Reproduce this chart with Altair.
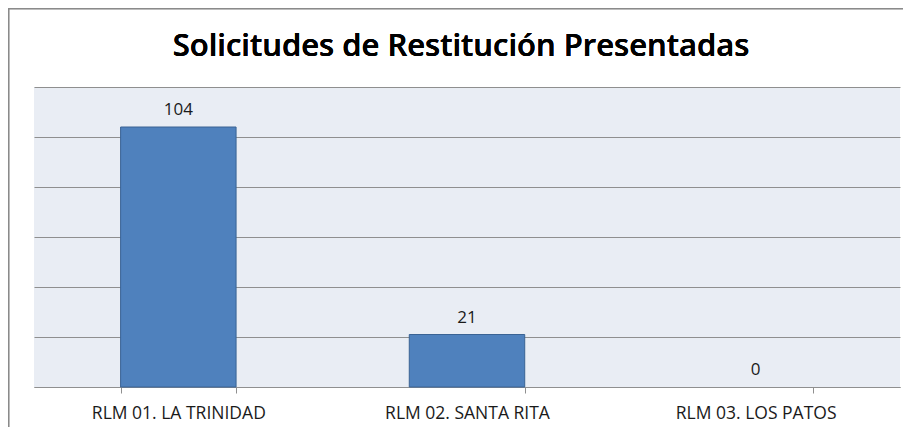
import altair as alt
import pandas as pd

categories = ["RLM 01. LA TRINIDAD", "RLM 02. SANTA RITA", "RLM 03. LOS PATOS"]
values = [104, 21, 0]
y_ticks = [0, 20, 40, 60, 80, 100, 120]
title_text = "Solicitudes de Restitución Presentadas"

df = pd.DataFrame({"cat": categories, "val": values})

W, H = 866, 300
FONT = "Open Sans"
GRID = "#8f8f8f"

x_enc = alt.X(
    "cat:N",
    sort=categories,
    title=None,
    scale=alt.Scale(paddingInner=0.6, paddingOuter=0.3),
    axis=alt.Axis(
        labelAngle=0, labelFont=FONT, labelFontSize=17.5, labelColor="#1a1a1a",
        labelPadding=11, tickBand="extent", tickSize=6, tickColor=GRID,
        domainColor=GRID, grid=False,
    ),
)
y_enc = alt.Y(
    "val:Q",
    title=None,
    scale=alt.Scale(domain=[0, 120], nice=False),
    axis=alt.Axis(values=y_ticks, labels=False, ticks=False, domain=False,
                  grid=True, gridColor=GRID, gridOpacity=1),
)

base = alt.Chart(df)
bars = base.mark_bar(color="#4F81BD", stroke="#3A6394", strokeWidth=1).encode(
    x=x_enc, y=y_enc,
    strokeOpacity=alt.condition("datum.val > 0", alt.value(1), alt.value(0)),
)
labels = base.mark_text(dy=-17, font=FONT, fontSize=17, color="#1a1a1a", baseline="middle").encode(
    x=alt.X("cat:N", sort=categories), y="val:Q", text="val:Q"
)

frame_left = base.mark_rule(color="#8a8a8a", strokeWidth=1.5).encode(
    x=alt.value(-25.5), y=alt.value(-78.5), y2=alt.value(H + 60)
)
frame_top = base.mark_rule(color="#8a8a8a", strokeWidth=1.5).encode(
    x=alt.value(-25.5), x2=alt.value(W + 20), y=alt.value(-78.5)
)
title = base.mark_text(font=FONT, fontSize=31, fontWeight=600, color="#000000",
                       baseline="middle", align="center").encode(
    x=alt.value(427), y=alt.value(-40), text=alt.datum(title_text)
)

chart = (
    alt.layer(frame_left, frame_top, bars, labels, title)
    .properties(
        width=W,
        height=H,
        autosize=alt.AutoSizeParams(type="none"),
        padding={"left": 26, "top": 79, "right": 3, "bottom": 40},
    )
    .configure_view(fill="#E9EDF4", strokeWidth=0)
)

chart.save("out.html", embed_options={"renderer": "svg", "actions": False})
